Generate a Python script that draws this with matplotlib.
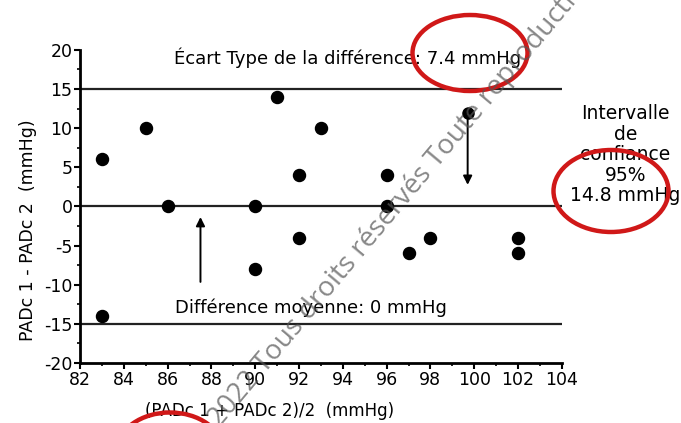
import matplotlib.pyplot as plt
from matplotlib.patches import Ellipse
from matplotlib.ticker import MultipleLocator

plt.rcParams["font.family"] = ["DejaVu Sans"]
plt.rcParams["axes.unicode_minus"] = False

# mean of the two measurements and their difference (mmHg)
mean_pad = [83, 83, 85, 86, 90, 90, 91, 92, 92, 93, 96, 96, 97, 98, 102, 102]
diff_pad = [6, -14, 10, 0, 0, -8, 14, 4, -4, 10, 4, 0, -6, -4, -4, -6]

mean_diff = 0
limits = [15, -15]
sd_text = "Écart Type de la différence: 7.4 mmHg"
mean_text = "Différence moyenne: 0 mmHg"
ci_text = "Intervalle\nde\nconfiance\n95%\n14.8 mmHg"

x_ticks = list(range(82, 105, 2))
y_ticks = list(range(-20, 21, 5))

fig = plt.figure(figsize=(6.81, 4.23), dpi=100)
ax = fig.add_axes([0.1175, 0.142, 0.7075, 0.740])

ax.axhline(mean_diff, color="#222222", lw=1.6, zorder=1)
for lim in limits:
    ax.axhline(lim, color="#222222", lw=1.6, zorder=1)

ax.scatter(mean_pad, diff_pad, s=75, color="black", zorder=3)

ax.set_xlim(82, 104)
ax.set_ylim(-20, 20)
ax.set_xticks(x_ticks)
ax.set_yticks(y_ticks)
ax.xaxis.set_minor_locator(MultipleLocator(1))
ax.yaxis.set_minor_locator(MultipleLocator(2.5))
ax.tick_params(labelsize=12.5, width=1.5, length=4, pad=1.5)
ax.tick_params(which="minor", width=1.2, length=2)
for side in ("top", "right"):
    ax.spines[side].set_visible(False)
for side in ("left", "bottom"):
    ax.spines[side].set_linewidth(2)

ax.set_xlabel("(PADc 1 + PADc 2)/2  (mmHg)", fontsize=12)
ax.set_ylabel("PADc 1 - PADc 2  (mmHg)", fontsize=12.5)
ax.xaxis.set_label_coords(0.394, -0.125)
ax.yaxis.set_label_coords(-0.089, 0.425)

ax.text(94.2, 19, sd_text, ha="center", va="center", fontsize=13)
ax.text(92.55, -12.9, mean_text, ha="center", va="center", fontsize=13)
ax.text(106.9, 6.6, ci_text, ha="center", va="center", fontsize=13.5,
        linespacing=1.1, clip_on=False)

# arrows pointing at the mean line
arrow = dict(arrowstyle="-|>", color="black", lw=1.4, mutation_scale=13)
ax.annotate("", xy=(87.5, -1), xytext=(87.5, -10), arrowprops=arrow)
ax.annotate("", xy=(99.7, 2.4), xytext=(99.7, 12), arrowprops=arrow)
ax.plot([99.7], [12], "o", color="black", ms=8, zorder=3)

# red highlight rings
for cx, cy, w, h in [(470, 53, 115, 76), (611, 191, 115, 82), (170, 450, 105, 75)]:
    fig.patches.append(Ellipse((cx / 681, 1 - cy / 423), w / 681, h / 423,
                               transform=fig.transFigure, fill=False,
                               edgecolor="#d01818", lw=3.2))

# copyright watermark
fig.text(0.575, 0.50, "(c) 2022 Tous droits réservés Toute reproduction",
         rotation=50, ha="center", va="center", fontsize=20,
         color="#555555", alpha=0.7, family=["Open Sans", "DejaVu Sans"])

fig.savefig("out.png", dpi=100)
